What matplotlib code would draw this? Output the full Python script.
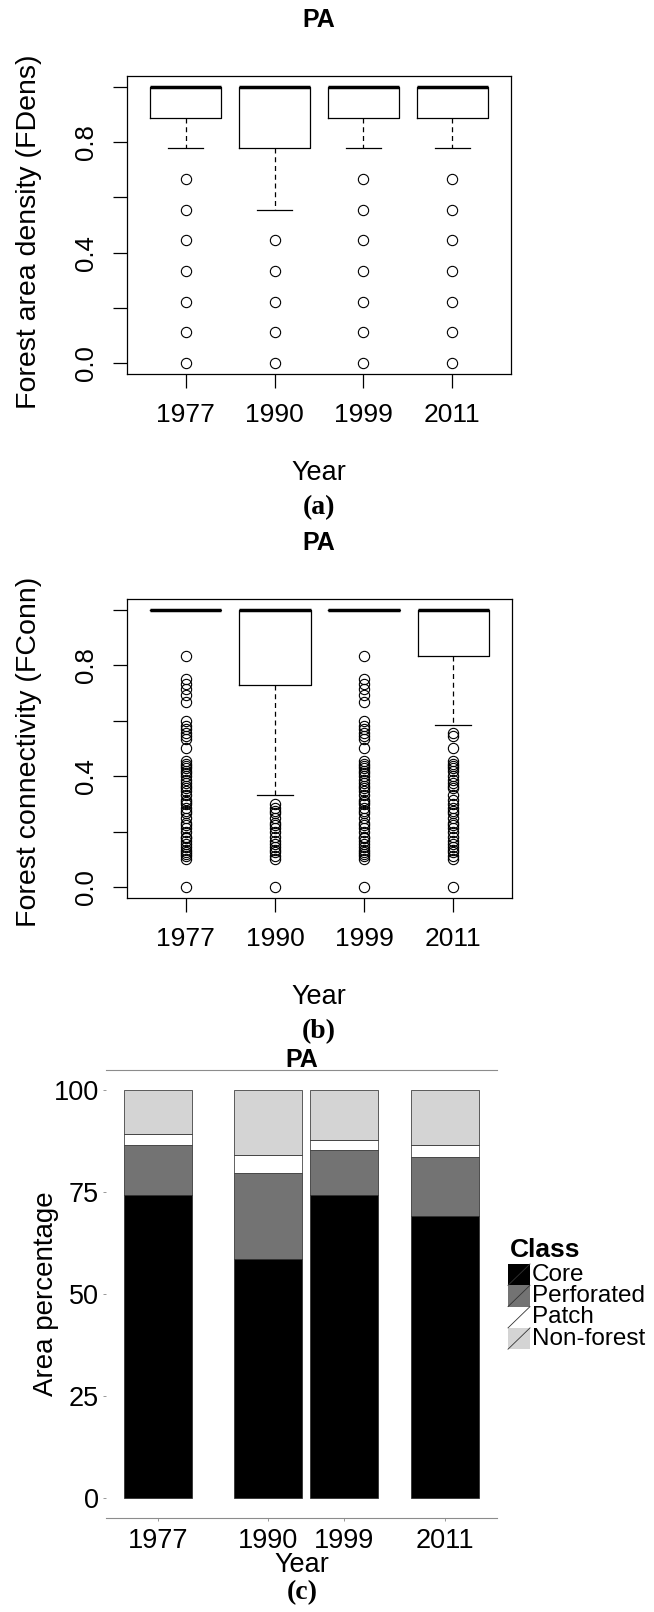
import matplotlib
matplotlib.use("Agg")
import matplotlib.pyplot as plt
from matplotlib.patches import Rectangle
from matplotlib.lines import Line2D

W, H = 654, 1612
SANS = ["Liberation Sans", "DejaVu Sans"]
SERIF = ["Liberation Serif", "DejaVu Serif"]
plt.rcParams["font.family"] = SANS

years = ["1977", "1990", "1999", "2011"]

# (a) forest area density, box stats per year
fdens_q1 = [0.889, 0.778, 0.889, 0.889]
fdens_med = [1.0, 1.0, 1.0, 1.0]
fdens_q3 = [1.0, 1.0, 1.0, 1.0]
fdens_lo = [0.778, 0.556, 0.778, 0.778]
fdens_hi = [1.0, 1.0, 1.0, 1.0]
fdens_out_1977 = [0.667, 0.556, 0.444, 0.333, 0.222, 0.111, 0.0]
fdens_out_1990 = [0.444, 0.333, 0.222, 0.111, 0.0]
fdens_out_1999 = [0.667, 0.556, 0.444, 0.333, 0.222, 0.111, 0.0]
fdens_out_2011 = [0.667, 0.556, 0.444, 0.333, 0.222, 0.111, 0.0]

# (b) forest connectivity
fconn_q1 = [1.0, 0.728, 1.0, 0.834]
fconn_med = [1.0, 1.0, 1.0, 1.0]
fconn_q3 = [1.0, 1.0, 1.0, 1.0]
fconn_lo = [1.0, 0.333, 1.0, 0.584]
fconn_hi = [1.0, 1.0, 1.0, 1.0]
fconn_out_1977 = [0.833, 0.75, 0.733, 0.714, 0.692, 0.667, 0.6, 0.583, 0.571,
                  0.556, 0.545, 0.533, 0.5, 0.455, 0.444, 0.438, 0.429, 0.417,
                  0.412, 0.4, 0.385, 0.375, 0.364, 0.357, 0.346, 0.333, 0.313,
                  0.308, 0.3, 0.286, 0.273, 0.267, 0.25, 0.231, 0.222, 0.214,
                  0.2, 0.182, 0.176, 0.167, 0.154, 0.143, 0.133, 0.125, 0.118,
                  0.111, 0.1, 0.0]
fconn_out_1990 = [0.3, 0.286, 0.273, 0.267, 0.25, 0.231, 0.222, 0.214, 0.2,
                  0.182, 0.167, 0.154, 0.143, 0.133, 0.125, 0.111, 0.1, 0.0]
fconn_out_1999 = [0.833, 0.75, 0.733, 0.714, 0.692, 0.667, 0.6, 0.583, 0.571,
                  0.556, 0.545, 0.533, 0.5, 0.455, 0.444, 0.438, 0.429, 0.417,
                  0.412, 0.4, 0.385, 0.375, 0.364, 0.357, 0.346, 0.333, 0.313,
                  0.308, 0.3, 0.286, 0.273, 0.267, 0.25, 0.231, 0.222, 0.214,
                  0.2, 0.182, 0.176, 0.167, 0.154, 0.143, 0.133, 0.125, 0.118,
                  0.111, 0.1, 0.0]
fconn_out_2011 = [0.556, 0.545, 0.5, 0.455, 0.444, 0.438, 0.429, 0.417, 0.4,
                  0.385, 0.375, 0.364, 0.357, 0.333, 0.313, 0.3, 0.286, 0.273,
                  0.267, 0.25, 0.231, 0.222, 0.214, 0.2, 0.182, 0.167, 0.154,
                  0.143, 0.133, 0.125, 0.111, 0.1, 0.0]

# (c) area percentage per class
cover_years = [1977, 1990, 1999, 2011]
classes = ["Core", "Perforated", "Patch", "Non-forest"]
core = [74.2, 58.6, 74.2, 69.1]
perforated = [12.5, 21.1, 11.1, 14.6]
patch = [2.7, 4.4, 2.6, 3.0]
nonforest = [10.6, 15.9, 12.1, 13.3]
class_colors = ["#000000", "#737373", "#ffffff", "#d4d4d4"]


def px_axes(fig, left, top, right, bottom):
    return fig.add_axes([left / W, 1 - bottom / H, (right - left) / W, (bottom - top) / H])


def ftext(fig, x, y, s, **kw):
    kw.setdefault("ha", "center")
    kw.setdefault("va", "center")
    fig.text(x / W, 1 - y / H, s, **kw)


def box_panel(ax, q1, med, q3, lo, hi, fliers):
    stats = []
    for i in range(len(years)):
        stats.append(dict(q1=q1[i], med=med[i], q3=q3[i], whislo=lo[i],
                          whishi=hi[i], fliers=fliers[i]))
    ax.bxp(stats, positions=range(1, 5), widths=0.8, capwidths=0.4,
           showfliers=True,
           boxprops=dict(color="black", linewidth=0.9),
           medianprops=dict(color="black", linewidth=2.5, solid_capstyle="butt"),
           whiskerprops=dict(color="black", linewidth=0.9, linestyle=(0, (4, 3))),
           capprops=dict(color="black", linewidth=0.9),
           flierprops=dict(marker="o", markerfacecolor="none",
                           markeredgecolor="black", markersize=7.4,
                           markeredgewidth=0.8, linestyle="none"))
    ax.set_xlim(0.34, 4.66)
    ax.set_ylim(-0.04, 1.04)
    ax.set_xticks(range(1, 5))
    ax.set_xticklabels(years, fontsize=19)
    ax.set_yticks([0.0, 0.2, 0.4, 0.6, 0.8, 1.0])
    ax.set_yticklabels(["0.0", "", "0.4", "", "0.8", ""], fontsize=18.5,
                       rotation=90, va="center")
    ax.tick_params(axis="x", length=10, width=0.9, pad=11)
    ax.tick_params(axis="y", length=10, width=0.9, pad=11)
    for s in ax.spines.values():
        s.set_linewidth(0.9)


fig = plt.figure(figsize=(W / 100, H / 100), dpi=100)

# panel (a)
ax_a = px_axes(fig, 127, 76, 511, 374)
box_panel(ax_a, fdens_q1, fdens_med, fdens_q3, fdens_lo, fdens_hi,
          [fdens_out_1977, fdens_out_1990, fdens_out_1999, fdens_out_2011])
ftext(fig, 319, 20, "PA", fontsize=18, fontweight="bold")
ftext(fig, 29, 232, "Forest area density (FDens)", fontsize=20.5, rotation=90)
ftext(fig, 319, 473, "Year", fontsize=19.5)
ftext(fig, 319, 508, "(a)", fontsize=20, fontweight="bold", family=SERIF)

# panel (b)
ax_b = px_axes(fig, 127, 599, 512, 898)
box_panel(ax_b, fconn_q1, fconn_med, fconn_q3, fconn_lo, fconn_hi,
          [fconn_out_1977, fconn_out_1990, fconn_out_1999, fconn_out_2011])
ftext(fig, 319, 543, "PA", fontsize=18, fontweight="bold")
ftext(fig, 29, 752, "Forest connectivity (FConn)", fontsize=20.5, rotation=90)
ftext(fig, 319, 997, "Year", fontsize=19.5)
ftext(fig, 319, 1032, "(b)", fontsize=20, fontweight="bold", family=SERIF)

# panel (c)
ax_c = px_axes(fig, 106, 1070, 497, 1518)
bottom = [0.0] * len(cover_years)
for vals, col in zip([core, perforated, patch, nonforest], class_colors):
    ax_c.bar(cover_years, vals, width=8.1, bottom=bottom, color=col,
             edgecolor="#222222", linewidth=0.5)
    bottom = [b + v for b, v in zip(bottom, vals)]
ax_c.set_xlim(1970.85, 2017.15)
ax_c.set_ylim(-5, 105)
ax_c.set_xticks(cover_years)
ax_c.set_xticklabels(years, fontsize=19.5)
ax_c.set_yticks([0, 25, 50, 75, 100])
ax_c.set_yticklabels(["0", "25", "50", "75", "100"], fontsize=19.5)
ax_c.tick_params(axis="both", length=2, width=0.6, color="#888888")
ax_c.tick_params(axis="x", pad=5)
ax_c.tick_params(axis="y", pad=3)
for side in ["left", "right"]:
    ax_c.spines[side].set_visible(False)
for side in ["top", "bottom"]:
    ax_c.spines[side].set_color("#8c8c8c")
    ax_c.spines[side].set_linewidth(0.8)
ftext(fig, 302, 1060, "PA", fontsize=18, fontweight="bold")
ftext(fig, 46, 1294, "Area percentage", fontsize=20, rotation=90)
ftext(fig, 302, 1565, "Year", fontsize=19.5)
ftext(fig, 302, 1593, "(c)", fontsize=20, fontweight="bold", family=SERIF)

# legend for (c), drawn as ggplot-style keys with a slash
ftext(fig, 510, 1250, "Class", fontsize=19, fontweight="bold", ha="left")
key_h = 21.3
for i, (name, col) in enumerate(zip(classes, class_colors)):
    top = 1264 + i * key_h
    fig.add_artist(Rectangle((508 / W, 1 - (top + key_h) / H), 22 / W, key_h / H,
                             transform=fig.transFigure, facecolor=col,
                             edgecolor="none"))
    fig.add_artist(Line2D([508 / W, 530 / W], [1 - (top + key_h) / H, 1 - top / H],
                          transform=fig.transFigure, color="#333333", linewidth=0.6))
    ftext(fig, 532, top + key_h / 2, name, fontsize=17.5, ha="left")

fig.savefig("out.png", dpi=100)
